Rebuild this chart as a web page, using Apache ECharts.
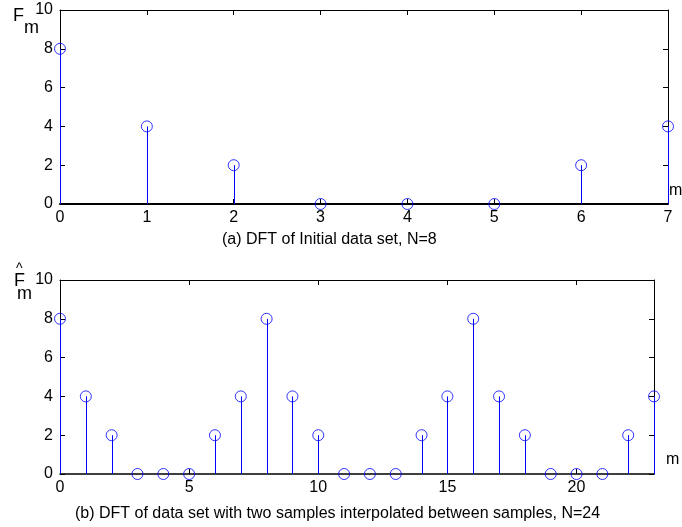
<!DOCTYPE html>
<html><head><meta charset="utf-8">
<script src="https://cdn.jsdelivr.net/npm/echarts@6/dist/echarts.min.js"></script>
<style>html,body{margin:0;padding:0;background:#fff}#c{width:682px;height:527px}</style>
</head><body><div id="c"></div>
<script>
const mA = [0,1,2,3,4,5,6,7];
const FA = [8,4,2,0,0,0,2,4];
const mB = [0,1,2,3,4,5,6,7,8,9,10,11,12,13,14,15,16,17,18,19,20,21,22,23];
const FB = [8,4,2,0,0,0,2,4,8,4,2,0,0,0,2,4,8,4,2,0,0,0,2,4];
const titleA = '(a) DFT of Initial data set, N=8';
const titleB = '(b) DFT of data set with two samples interpolated between samples, N=24';

const FONT = 'Liberation Sans, Arial, sans-serif';
const BLUE = '#0000ff';
const chart = echarts.init(document.getElementById('c'), null, {renderer:'canvas'});

function xAx(gi, max, interval, show, lw, showMax){
  return {type:'value', gridIndex:gi, min:0, max:max, interval:interval,
    position: show ? 'bottom' : 'top',
    axisLine:{show:true, onZero:false, lineStyle:{color:'#000', width:lw||1}},
    axisTick:{show:true, inside:true, length:5, lineStyle:{color:'#000'}},
    axisLabel:{show:show, color:'#000', fontFamily:FONT, fontSize:16, margin:6,
      showMaxLabel: showMax !== false,
      formatter: v => (max % interval !== 0 && v === max) ? '' : String(v)},
    splitLine:{show:false}};
}
function yAx(gi, show){
  return {type:'value', gridIndex:gi, min:0, max:10, interval:2,
    position: show ? 'left' : 'right',
    axisLine:{show:true, onZero:false, lineStyle:{color:'#000', width:1}},
    axisTick:{show:true, inside:true, length:5, lineStyle:{color:'#000'}},
    axisLabel:{show:show, color:'#000', fontFamily:FONT, fontSize:16, margin:7},
    splitLine:{show:false}};
}
function stems(xi, yi, xs, ys){
  return {type:'custom', xAxisIndex:xi, yAxisIndex:yi, clip:false,
    data: xs.map((x,i)=>[x, ys[i]]),
    renderItem:function(params, api){
      const p0 = api.coord([api.value(0), 0]);
      const p1 = api.coord([api.value(0), api.value(1)]);
      const x = Math.round(p0[0]) + 0.5;
      return {type:'line', shape:{x1:x, y1:p0[1], x2:x, y2:p1[1]},
        style:{stroke:BLUE, lineWidth:1}};
    }, z:2};
}
function marks(xi, yi, xs, ys){
  return {type:'scatter', xAxisIndex:xi, yAxisIndex:yi, clip:false,
    data: xs.map((x,i)=>[x, ys[i]]), symbol:'circle', symbolSize:11,
    itemStyle:{color:'rgba(0,0,0,0)', borderColor:BLUE, borderWidth:1},
    emphasis:{disabled:true}, z:3};
}

chart.setOption({
  animation:false,
  backgroundColor:'#fff',
  grid:[
    {left:60, top:10, width:608, height:194},
    {left:60, top:280, width:594, height:194}
  ],
  xAxis:[xAx(0,7,1,true,2), xAx(0,7,1,false), xAx(1,23,5,true,1.5,false), xAx(1,23,5,false)],
  yAxis:[yAx(0,true), yAx(0,false), yAx(1,true), yAx(1,false)],
  series:[
    stems(0,0,mA,FA), marks(0,0,mA,FA),
    stems(2,2,mB,FB), marks(2,2,mB,FB)
  ],
  graphic:[
    {type:'text', left:13, top:7, style:{text:'F', font:'18px '+FONT, fill:'#000'}},
    {type:'text', left:24, top:19, style:{text:'m', font:'18px '+FONT, fill:'#000'}},
    {type:'text', left:669, top:183, style:{text:'m', font:'16px '+FONT, fill:'#000'}},
    {type:'text', left:222, top:232, style:{text:titleA, font:'16px '+FONT, fill:'#000'}},
    {type:'text', left:16, top:262, style:{text:'^', font:'14px '+FONT, fill:'#000'}},
    {type:'text', left:14, top:272, style:{text:'F', font:'18px '+FONT, fill:'#000'}},
    {type:'text', left:17, top:285, style:{text:'m', font:'18px '+FONT, fill:'#000'}},
    {type:'text', left:666, top:452, style:{text:'m', font:'16px '+FONT, fill:'#000'}},
    {type:'text', left:75, top:506, style:{text:titleB, font:'16px '+FONT, fill:'#000'}}
  ]
});
</script></body></html>
